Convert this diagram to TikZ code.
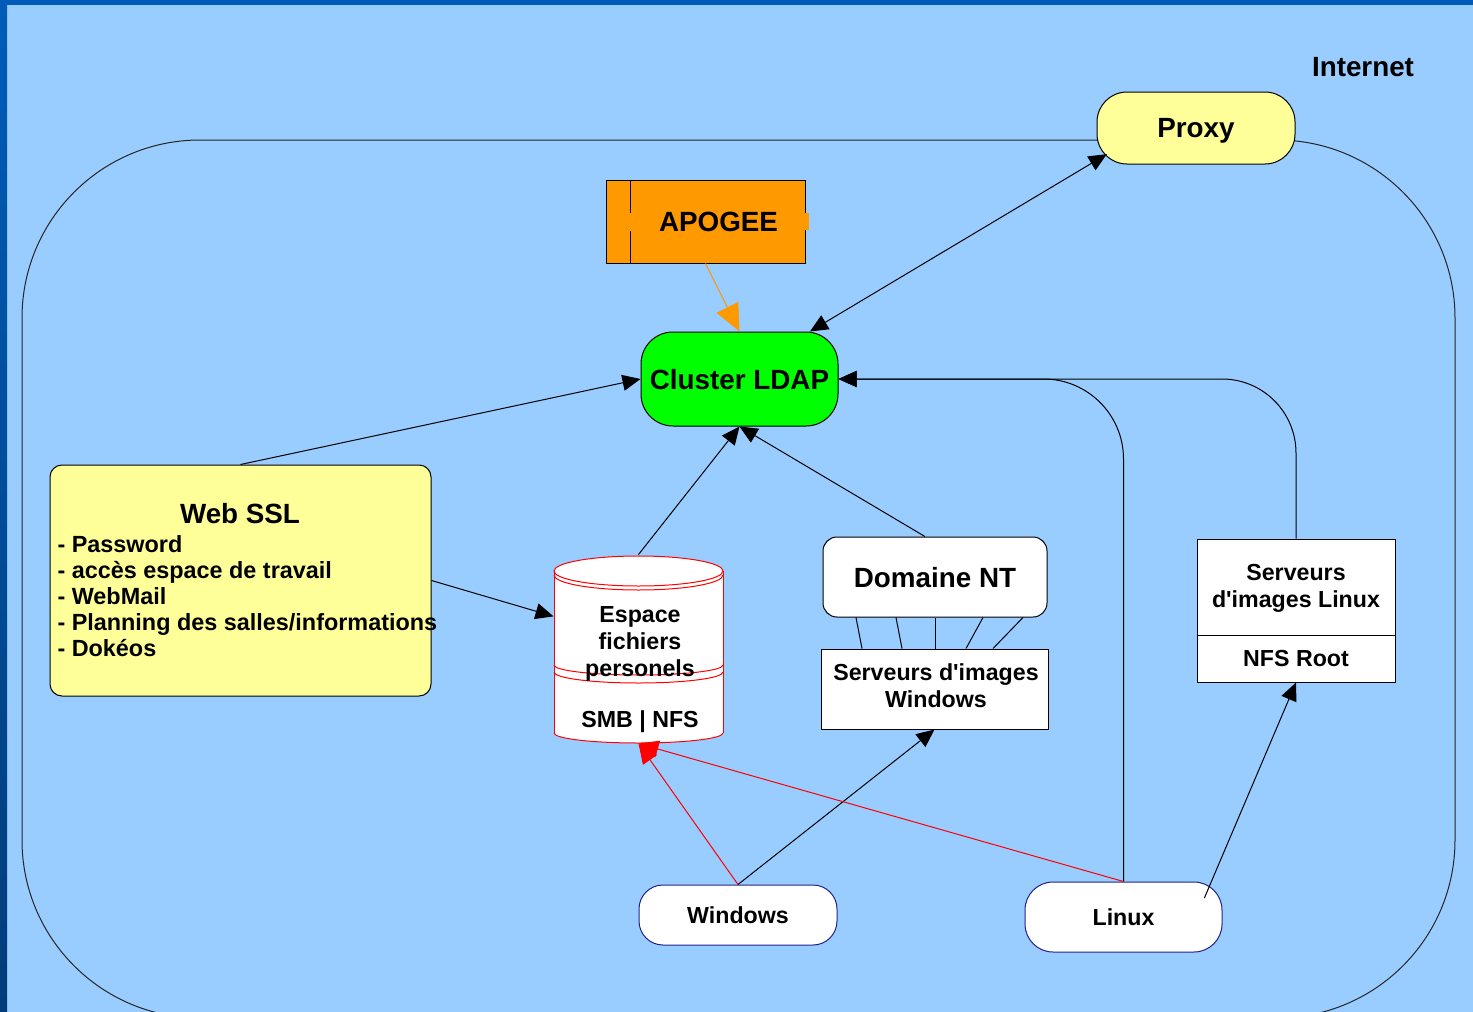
\documentclass[tikz,border=0pt]{standalone}
\usepackage{fontspec}
\setmainfont{Liberation Sans}
\usetikzlibrary{arrows.meta}

\definecolor{bgblue}{HTML}{99CCFF}
\definecolor{edgeblue}{HTML}{005CB8}
\definecolor{edgedark}{HTML}{003C7A}
\definecolor{paleyellow}{HTML}{FFFF99}
\definecolor{apoorange}{HTML}{FF9900}
\definecolor{ldapgreen}{HTML}{00FF00}
\definecolor{osnavy}{HTML}{22228C}

\newcommand{\bigtxt}{\fontsize{13.9}{16}\selectfont\bfseries}
\newcommand{\midtxt}{\fontsize{11.6}{13.5}\selectfont\bfseries}
\newcommand{\listtxt}{\fontsize{11.7}{13}\selectfont\bfseries}

\begin{document}
\begin{tikzpicture}[x=0.5pt,y=-0.5pt,line width=0.5pt,
    every node/.style={inner sep=0pt},
    pill/.style={draw,rounded corners=#1,text depth=0pt},
    plainbox/.style={draw,fill=white},
    link/.style={-{Triangle[length=9pt,width=8pt]}},
    twoway/.style={{Triangle[length=9pt,width=8pt]}-{Triangle[length=9pt,width=8pt]}},
    redlink/.style={red,-{Triangle[length=10pt,width=8.5pt]}},
    feed/.style={apoorange,-{Triangle[length=13.5pt,width=12pt]}}]

    \useasboundingbox (0,0) rectangle (1473,1012);

    % slide background
    \fill[bgblue] (0,0) rectangle (1473,1012);
    \fill[edgeblue] (0,0) rectangle (1473,5);
    \shade[top color=edgeblue,bottom color=edgedark] (0,0) rectangle (7,1012);

    % internet boundary
    \begin{scope}
        \clip (7,5) rectangle (1473,1012);
        \draw[black!85,rounded corners=89pt] (22,140) rectangle (1455,1018);
    \end{scope}
    \node[font=\bigtxt,anchor=base] (inet) at (1363,76) {Internet};

    % proxy, apogee, ldap
    \node[pill=15pt,fill=paleyellow,minimum width=99pt,minimum height=36pt,font=\bigtxt] (proxy) at (1196,128) {Proxy};
    \node[draw,fill=apoorange,minimum width=99.5pt,minimum height=41.5pt,font=\bigtxt,text depth=0pt] (apogee) at (705.5,221.5) {\hspace*{13pt}APOGEE};
    \draw ([xshift=12.5pt]apogee.north west) -- ++(0,33);
    \draw ([xshift=12.5pt]apogee.south west) -- ++(0,-33);
    \fill[apoorange] ([xshift=-0.5pt,yshift=4.25pt]apogee.east) rectangle ([xshift=1.5pt,yshift=-4.25pt]apogee.east);
    \node[pill=16pt,fill=ldapgreen,minimum width=98.5pt,minimum height=47pt,font=\bigtxt] (ldap) at (739.5,379) {Cluster LDAP};

    % web ssl
    \node[draw,rounded corners=6pt,fill=paleyellow,minimum width=190.5pt,minimum height=115.5pt] (ssl) at (240.5,580.5) {};
    \node[font=\bigtxt,anchor=base] (ssltitle) at (240,523) {Web SSL};
    \node[font=\listtxt,anchor=north west,align=left] (ssllist) at (57,535.5) {- Password\\- accès espace de travail\\- WebMail\\- Planning des salles/informations\\- Dokéos};

    % disk
    \node[minimum width=84.5pt,minimum height=94pt] (espace) at (638.5,649) {};
    \fill[white] (554,571) -- (554,733) arc[start angle=180,end angle=360,x radius=42.25pt,y radius=5pt]
        -- (723,571) arc[start angle=0,end angle=180,x radius=42.25pt,y radius=7.5pt] -- cycle;
    \begin{scope}[red]
        \draw (638.5,571) ellipse[x radius=42.25pt,y radius=7.5pt];
        \draw (554,575) arc[start angle=180,end angle=360,x radius=42.25pt,y radius=7.5pt];
        \draw (554,571) -- (554,733);
        \draw (723,571) -- (723,733);
        \draw (554,665) arc[start angle=180,end angle=360,x radius=42.25pt,y radius=5pt];
        \draw (554,672) arc[start angle=180,end angle=360,x radius=42.25pt,y radius=5.5pt];
        \draw (554,733) arc[start angle=180,end angle=360,x radius=42.25pt,y radius=5pt];
    \end{scope}
    \node[font=\midtxt,align=center] (espacetxt) at (640,644) {Espace\\fichiers\\personels};
    \node[font=\midtxt,anchor=base] (smbnfs) at (640,727) {SMB | NFS};

    % windows servers
    \node[pill=7pt,fill=white,minimum width=112pt,minimum height=40pt,font=\bigtxt] (domnt) at (935,577) {Domaine NT};
    \node[plainbox,minimum width=113.5pt,minimum height=40pt] (srvwin) at (934.5,689) {};
    \node[font=\midtxt,align=center] (srvwintxt) at (936,686) {Serveurs d\textquotesingle images\\Windows};
    \foreach \t/\s in {856/862,896/902,935/935,983/966,1023/993}
        \draw (domnt.south -| \t,0) -- (srvwin.north -| \s,0);

    % linux servers
    \node[plainbox,minimum width=99pt,minimum height=71.5pt] (srvlinux) at (1296,610.5) {};
    \draw (srvlinux.west |- 0,635) -- (srvlinux.east |- 0,635);
    \node[font=\midtxt,align=center] (srvlinuxtxt) at (1296,588.5) {Serveurs\\d\textquotesingle images Linux};
    \node[font=\midtxt,text depth=0pt] (nfsroot) at (1296,658.5) {NFS Root};

    % clients
    \node[pill=12pt,draw=osnavy,fill=white,minimum width=99pt,minimum height=30pt,font=\midtxt] (windows) at (738,915) {Windows};
    \node[pill=14pt,draw=osnavy,fill=white,minimum width=98.5pt,minimum height=35pt,font=\midtxt] (linux) at (1123.5,917) {Linux};

    % connectors
    \draw[twoway,shorten >=-6pt] (ldap.34.85) -- (proxy.198.2);
    \draw[feed] (apogee.south) -- (ldap.north);
    \draw[link] (ssl.north) -- (ldap.west);
    \draw[link] (ssl.east) -- (espace.159.3);
    \draw[link] (espace.north) -- (ldap.south);
    \draw[link] (domnt.104) -- (ldap.south);
    \draw[link,rounded corners=40pt] (linux.north) |- (ldap.east);
    \draw[link,rounded corners=37pt] (srvlinux.north) |- (ldap.east);
    \draw[link] (windows.north) -- (srvwin.south);
    \draw[redlink] (windows.north) -- (espace.south);
    \draw[redlink] (linux.north) -- (espace.south);
    \draw[link,shorten <=-9pt] (linux.22.6) -- (srvlinux.south);
\end{tikzpicture}
\end{document}
